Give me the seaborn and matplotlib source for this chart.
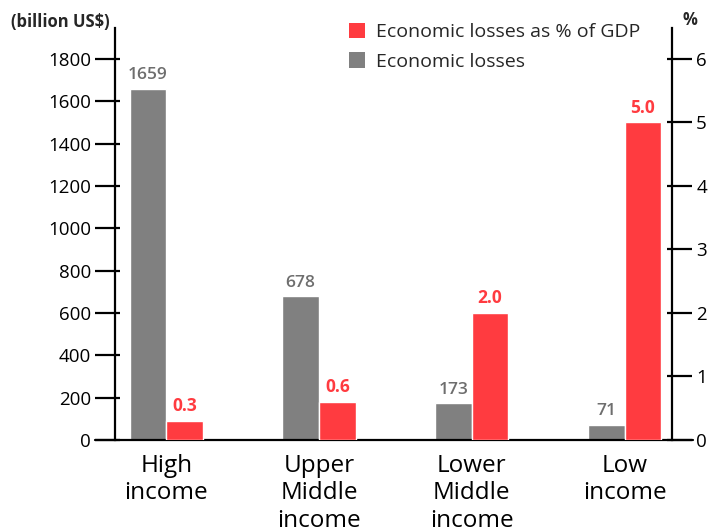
import numpy as np
import pandas as pd
import seaborn as sns
import matplotlib.pyplot as plt
from matplotlib.patches import Patch
from matplotlib.ticker import FixedLocator

categories = ["High\nincome", "Upper\nMiddle\nincome", "Lower\nMiddle\nincome", "Low\nincome"]
losses = [1659, 678, 173, 71]
losses_pct = [0.3, 0.6, 2.0, 5.0]
left_ticks = [0, 200, 400, 600, 800, 1000, 1200, 1400, 1600, 1800]
right_ticks = [0, 1, 2, 3, 4, 5, 6]
s_abs = "Economic losses"
s_pct = "Economic losses as % of GDP"

GRAY = "#808080"
RED = "#FF3B40"

sns.set_theme(style="white")
plt.rcParams['font.family'] = ['Open Sans', 'DejaVu Sans']

n = len(categories)
df_abs = pd.DataFrame({"cat": categories + categories,
                       "series": [s_abs] * n + [s_pct] * n,
                       "val": losses + [np.nan] * n})
df_pct = pd.DataFrame({"cat": categories + categories,
                       "series": [s_abs] * n + [s_pct] * n,
                       "val": [np.nan] * n + losses_pct})

fig = plt.figure(figsize=(7.13, 5.32), dpi=100)
ax = fig.add_axes([115/713, 1 - 440/532, (672-115)/713, (440-28)/532])
ax2 = ax.twinx()

pal = {s_abs: GRAY, s_pct: RED}
sns.barplot(data=df_abs, x="cat", y="val", hue="series", hue_order=[s_abs, s_pct],
            palette=pal, width=0.48, ax=ax, legend=False, edgecolor="white",
            linewidth=1, errorbar=None, saturation=1)
sns.barplot(data=df_pct, x="cat", y="val", hue="series", hue_order=[s_abs, s_pct],
            palette=pal, width=0.48, ax=ax2, legend=False, edgecolor="white",
            linewidth=1, errorbar=None, saturation=1)

ax.set_xlim(-0.335, 3.31)
ax.set_ylim(0, 1946)
ax2.set_ylim(0, 1946 / 300)

# value labels
for cont in ax.containers:
    for bar, v in zip(cont, cont.datavalues):
        if np.isnan(v):
            continue
        ax.annotate(f"{int(v)}", (bar.get_x() + bar.get_width()/2, v),
                    xytext=(0, 4), textcoords="offset points", ha="center", va="bottom",
                    color="#6E6E6E", fontsize=12.5, fontweight="semibold")
for cont in ax2.containers:
    for bar, v in zip(cont, cont.datavalues):
        if np.isnan(v):
            continue
        ax2.annotate(f"{v:.1f}", (bar.get_x() + bar.get_width()/2, v),
                     xytext=(0, 4), textcoords="offset points", ha="center", va="bottom",
                     color=RED, fontsize=12.5, fontweight="bold")

for a in (ax, ax2):
    a.set_xlabel("")
    a.set_ylabel("")
    for s in a.spines.values():
        s.set_visible(False)
    a.grid(False)

ax.spines["left"].set_visible(True)
ax.spines["left"].set_linewidth(1.6)
ax.spines["left"].set_color("black")
ax2.spines["right"].set_visible(True)
ax2.spines["right"].set_linewidth(1.6)
ax2.spines["right"].set_color("black")

ax.set_yticks(left_ticks)
ax.set_yticklabels([str(t) for t in left_ticks])
ax2.set_yticks(right_ticks)
ax2.set_yticklabels([str(t) for t in right_ticks])

for a, side in ((ax, "left"), (ax2, "right")):
    a.yaxis.set_minor_locator(FixedLocator(a.get_yticks()))
    a.yaxis.remove_overlapping_locs = False
    a.tick_params(axis="y", which="major", direction="out", length=14.4, width=1.6,
                  color="black", labelsize=13.5, pad=3, labelcolor="black")
    a.tick_params(axis="y", which="minor", direction="in", length=3.6, width=1.6,
                  color="black")

ax.set_xticks(range(n))
ax.set_xticklabels(categories)
ax.tick_params(axis="x", length=0, labelsize=17.5, pad=10, labelcolor="black")
ax2.tick_params(axis="x", length=0, labelbottom=False)
for lbl in ax.get_xticklabels():
    lbl.set_linespacing(1.2)

# bottom baseline extending past both spines
ax.plot([-20/557, 1 + 21/557], [0, 0], transform=ax.transAxes, color="black",
        lw=1.6, clip_on=False, zorder=5)

fig.text(110/713, 1 - 22/532, "(billion US$)", ha="right", va="center",
         fontsize=12, fontweight="bold")
fig.text(690/713, 1 - 20/532, "%", ha="center", va="center",
         fontsize=12, fontweight="bold")

handles = [Patch(facecolor=RED, edgecolor="none"), Patch(facecolor=GRAY, edgecolor="none")]
fig.legend(handles, [s_pct, s_abs], loc="upper left",
           bbox_to_anchor=(345/713, 1 - 19/532), frameon=False, fontsize=14,
           handlelength=0.85, handleheight=0.85, handletextpad=0.55, labelspacing=0.55,
           borderaxespad=0, borderpad=0.2)

fig.savefig("out.png", dpi=100)
